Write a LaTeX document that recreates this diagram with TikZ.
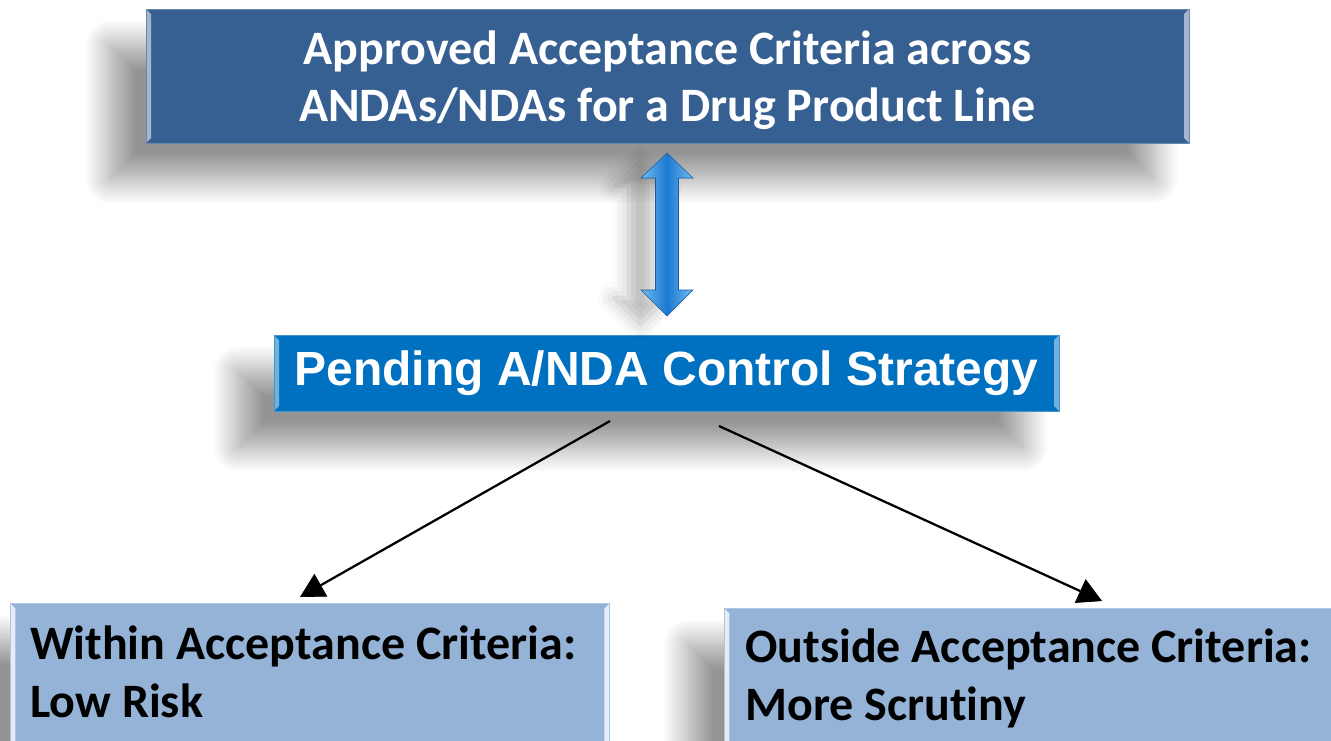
\documentclass[tikz,border=0pt]{standalone}
\usepackage{fontspec}
\setmainfont{Carlito}[Ligatures=NoCommon]
\newfontfamily\arialfont{Liberation Sans}
\usetikzlibrary{shadows.blur,arrows.meta,calc}

\definecolor{topblue}{HTML}{376092}
\definecolor{midblue}{HTML}{0070C0}
\definecolor{lowblue}{HTML}{95B3D7}
\definecolor{arrowdark}{HTML}{1C78CF}
\definecolor{arrowlight}{HTML}{72BDF3}

\tikzset{
  softshadow/.style={blur shadow={shadow xshift=-27pt, shadow yshift=-27pt,
      shadow blur radius=19pt, shadow blur steps=22, shadow opacity=42}},
  bevel/.style={path picture={
      \fill[#1] (path picture bounding box.north west) -- ++(3.75pt,-3.75pt)
        -- ([shift={(3.75pt,3.75pt)}]path picture bounding box.south west)
        -- (path picture bounding box.south west) -- cycle;
      \fill[#1] (path picture bounding box.north east) -- ++(-3.75pt,-3.75pt)
        -- ([shift={(-3.75pt,3.75pt)}]path picture bounding box.south east)
        -- (path picture bounding box.south east) -- cycle;}},
  panel/.style={rectangle, inner sep=0pt, fill=#1, draw=#1!75!white,
      line width=0.6pt, softshadow},
  bigtext/.style={font=\bfseries\fontsize{36}{43}\selectfont},
  conn/.style={line width=1.7pt, draw=black,
      -{Triangle[length=18pt,width=19.5pt,fill=black,line width=0.5pt]}},
}

\begin{document}
\begin{tikzpicture}[x=0.75pt,y=-0.75pt]
\useasboundingbox (0,0) rectangle (1331,740);
\clip (0,0) rectangle (1331,740);

% top box
\node[panel=topblue, bevel=topblue!45!white, minimum width=782.25pt,
      minimum height=100.5pt, bigtext, text=white, align=center,
      text depth=0pt]
      (top) at (667.5,76)
      {Approved Acceptance Criteria across\\ANDAs/NDAs for a Drug Product Line};

% middle box
\node[panel=midblue, bevel=midblue!55!white, minimum width=588.75pt,
      minimum height=57pt, text=white,
      font=\arialfont\bfseries\fontsize{36}{43}\selectfont]
      (mid) at (666.5,373) {Pending A/NDA Control Strategy};

% bottom boxes
\node[panel=lowblue, bevel=lowblue!25!white, anchor=north west,
      minimum width=449.25pt, minimum height=120pt] (low) at (10,603) {};
\node[panel=lowblue, bevel=lowblue!25!white, anchor=north west,
      minimum width=480pt, minimum height=120pt] (high) at (724,608) {};

\node[bigtext, align=left, inner sep=0pt, anchor=north west]
      (lowtext) at (30,626) {Within Acceptance Criteria:\\Low Risk};
\node[bigtext, align=left, inner sep=0pt, anchor=north west]
      (hightext) at (745,629) {Outside Acceptance Criteria:\\More Scrutiny};

% double block arrow between the top and middle boxes
\coordinate (dtop) at (667,153);
\coordinate (dbot) at (667,316);
\path[left color=arrowlight, right color=arrowlight, middle color=arrowdark,
      draw=arrowdark!75!black, line width=0.4pt,
      blur shadow={shadow xshift=-20pt, shadow yshift=-6pt,
        shadow blur radius=12pt, shadow opacity=28}]
  (dtop) -- ++(26,25) -- ++(-14.5,0) -- ($(dbot)+(11.5,-26)$) -- ++(14.5,0)
  -- (dbot) -- ++(-26,-26) -- ++(14.5,0) -- ($(dtop)+(-11.5,25)$)
  -- ++(-14.5,0) -- cycle;

% connectors to the outcome boxes
\coordinate (c1s) at (610,421);
\coordinate (c1e) at (300,597);
\coordinate (c2s) at (719,426);
\coordinate (c2e) at (1102,601);
\draw[conn] (c1s) -- (c1e);
\draw[conn] (c2s) -- (c2e);
\end{tikzpicture}
\end{document}
